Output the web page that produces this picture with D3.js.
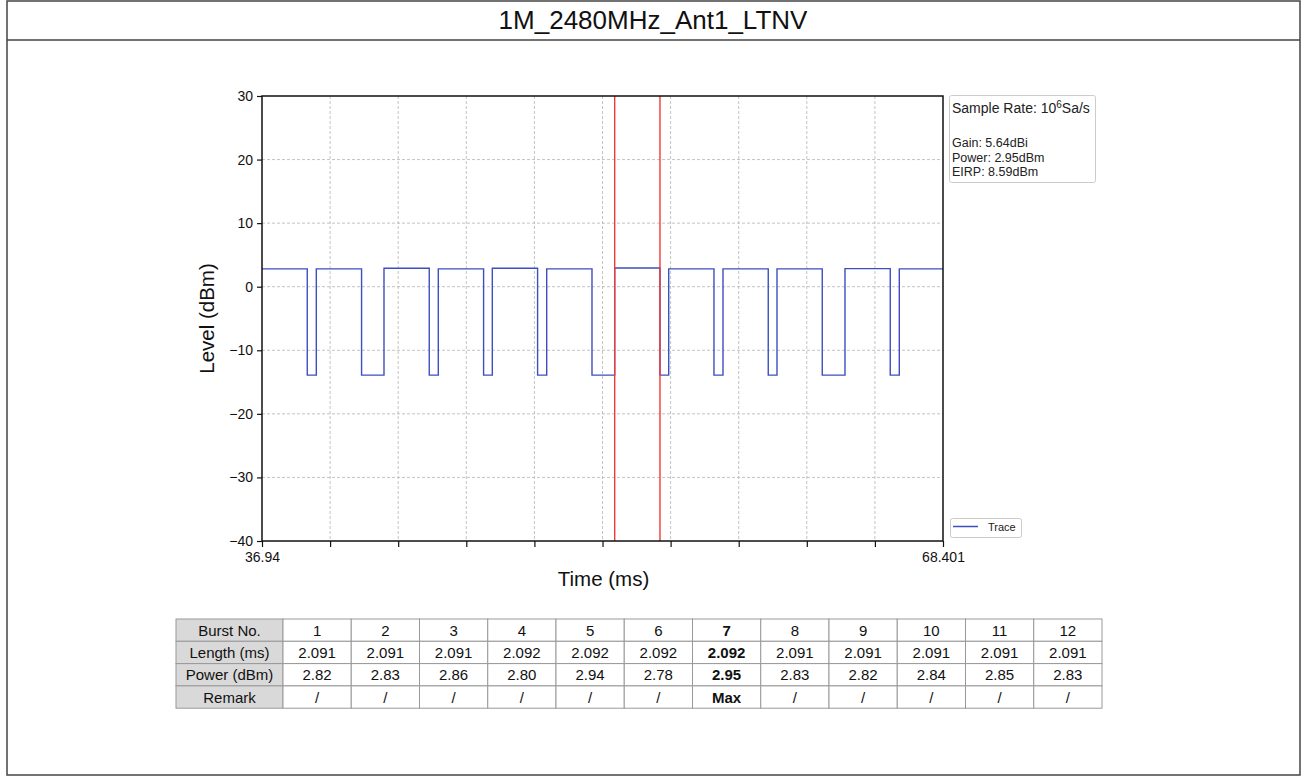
<!DOCTYPE html>
<html>
<head>
<meta charset="utf-8">
<script src="https://cdn.jsdelivr.net/npm/d3@7"></script>
<style>
  html, body { margin: 0; padding: 0; background: #fff; }
  svg { display: block; font-family: "Liberation Sans", Arial, sans-serif; }
</style>
</head>
<body>
<svg id="chart" width="1303" height="776"></svg>
<script>
// ---------- data ----------
const title = "1M_2480MHz_Ant1_LTNV";
const xDomain = [36.94, 68.401];
const yDomain = [-40, 30];
const yTickValues = [-40, -30, -20, -10, 0, 10, 20, 30];
const xTickValues = [36.94, 40.086, 43.232, 46.378, 49.525, 52.671, 55.817, 58.963, 62.109, 65.255, 68.401];
const xTickLabels = ["36.94", "", "", "", "", "", "", "", "", "", "68.401"];

// burst start times (ms)
const burstStart = [36.94, 39.449, 42.576, 45.085, 47.580, 50.093, 53.234, 55.729, 58.237, 60.732, 63.873, 66.382];
// burst on-level (dBm) as drawn
const burstLevel = [2.8, 2.8, 2.9, 2.8, 2.9, 2.8, 2.95, 2.8, 2.8, 2.8, 2.85, 2.8];
const offLevel = -13.9;

// table
const burstNo = ["1", "2", "3", "4", "5", "6", "7", "8", "9", "10", "11", "12"];
const lengthMs = ["2.091", "2.091", "2.091", "2.092", "2.092", "2.092", "2.092", "2.091", "2.091", "2.091", "2.091", "2.091"];
const powerDbm = ["2.82", "2.83", "2.86", "2.80", "2.94", "2.78", "2.95", "2.83", "2.82", "2.84", "2.85", "2.83"];
const remark = ["/", "/", "/", "/", "/", "/", "Max", "/", "/", "/", "/", "/"];
const rowHeaders = ["Burst No.", "Length (ms)", "Power (dBm)", "Remark"];
const maxIndex = 6;

// markers (start / end of max burst)
const markerTimes = [burstStart[maxIndex], burstStart[maxIndex] + parseFloat(lengthMs[maxIndex])];

const infoLines = ["Gain: 5.64dBi", "Power: 2.95dBm", "EIRP: 8.59dBm"];

// ---------- drawing ----------
const svg = d3.select("#chart");

// outer frame
svg.append("rect").attr("x", 7).attr("y", 1).attr("width", 1293).attr("height", 774)
  .attr("fill", "none").attr("stroke", "#444").attr("stroke-width", 1.5);
svg.append("line").attr("x1", 7).attr("x2", 1300).attr("y1", 40).attr("y2", 40)
  .attr("stroke", "#444").attr("stroke-width", 1.5);
svg.append("text").attr("x", 653).attr("y", 29).attr("text-anchor", "middle")
  .attr("font-size", 26).attr("fill", "#111").text(title);

const plot = { left: 262, right: 943, top: 96, bottom: 541 };
const x = d3.scaleLinear().domain(xDomain).range([plot.left, plot.right]);
const y = d3.scaleLinear().domain(yDomain).range([plot.bottom, plot.top]);

// grid
const grid = svg.append("g");
grid.selectAll("line.gx").data(xTickValues.slice(1, -1)).enter().append("line")
  .attr("x1", d => x(d)).attr("x2", d => x(d)).attr("y1", plot.top).attr("y2", plot.bottom)
  .attr("stroke", "#b4b4b4").attr("stroke-width", 0.8).attr("stroke-dasharray", "3,2");
grid.selectAll("line.gy").data(yTickValues.slice(1, -1)).enter().append("line")
  .attr("x1", plot.left).attr("x2", plot.right).attr("y1", d => y(d)).attr("y2", d => y(d))
  .attr("stroke", "#b4b4b4").attr("stroke-width", 0.8).attr("stroke-dasharray", "3,2");

// clip
svg.append("clipPath").attr("id", "clip").append("rect")
  .attr("x", plot.left).attr("y", plot.top)
  .attr("width", plot.right - plot.left).attr("height", plot.bottom - plot.top);

// trace points
const pts = [];
burstStart.forEach((s, i) => {
  const e = s + parseFloat(lengthMs[i]);
  pts.push([s, burstLevel[i]]);
  pts.push([e, burstLevel[i]]);
  if (i < burstStart.length - 1) {
    pts.push([e, offLevel]);
    pts.push([burstStart[i + 1], offLevel]);
  }
});
const line = d3.line().x(d => x(d[0])).y(d => y(d[1]));
svg.append("path").datum(pts).attr("clip-path", "url(#clip)")
  .attr("d", line).attr("fill", "none").attr("stroke", "#3d4fbf").attr("stroke-width", 1.4);

// markers
svg.selectAll("line.marker").data(markerTimes).enter().append("line")
  .attr("x1", d => x(d)).attr("x2", d => x(d)).attr("y1", plot.top).attr("y2", plot.bottom)
  .attr("stroke", "#f03a3a").attr("stroke-width", 1.4);

// axes
const yAxis = d3.axisLeft(y).tickValues(yTickValues).tickSize(5).tickPadding(4)
  .tickFormat(d => d < 0 ? "\u2212" + Math.abs(d) : d);
const gy = svg.append("g").attr("transform", `translate(${plot.left},0)`).call(yAxis);
gy.select(".domain").remove();
gy.selectAll("text").attr("font-size", 14).attr("fill", "#111").attr("font-family", "Liberation Sans, Arial");
gy.selectAll("line").attr("stroke", "#111").attr("stroke-width", 1.2);

const xAxis = d3.axisBottom(x).tickValues(xTickValues).tickSize(6).tickPadding(5)
  .tickFormat((d, i) => xTickLabels[i]);
const gx = svg.append("g").attr("transform", `translate(0,${plot.bottom})`).call(xAxis);
gx.select(".domain").remove();
gx.selectAll("text").attr("font-size", 14).attr("fill", "#111").attr("font-family", "Liberation Sans, Arial");
gx.selectAll("line").attr("stroke", "#111").attr("stroke-width", 1.2);

// frame
svg.append("rect").attr("x", plot.left).attr("y", plot.top)
  .attr("width", plot.right - plot.left).attr("height", plot.bottom - plot.top)
  .attr("fill", "none").attr("stroke", "#111").attr("stroke-width", 1.5);

// axis labels
svg.append("text").attr("x", (plot.left + plot.right) / 2 + 1).attr("y", 586)
  .attr("text-anchor", "middle").attr("font-size", 20.5).attr("fill", "#111").text("Time (ms)");
svg.append("text").attr("transform", `translate(214,${(plot.top + plot.bottom) / 2}) rotate(-90)`)
  .attr("text-anchor", "middle").attr("font-size", 20.5).attr("fill", "#111").text("Level (dBm)");

// info box
svg.append("rect").attr("x", 949.5).attr("y", 95.5).attr("width", 146).attr("height", 87).attr("rx", 2)
  .attr("fill", "#fff").attr("stroke", "#ccc").attr("stroke-width", 1);
const sr = svg.append("text").attr("x", 952).attr("y", 113).attr("font-size", 14).attr("fill", "#222");
sr.append("tspan").text("Sample Rate: 10");
sr.append("tspan").attr("dy", -5).attr("font-size", 10).text("6");
sr.append("tspan").attr("dy", 5).text("Sa/s");
svg.selectAll("text.info").data(infoLines).enter().append("text")
  .attr("x", 952).attr("y", (d, i) => 147 + i * 14.6).attr("font-size", 12.5).attr("fill", "#222").text(d => d);

// legend
svg.append("rect").attr("x", 950.5).attr("y", 518.5).attr("width", 71).attr("height", 19).attr("rx", 2)
  .attr("fill", "#fff").attr("stroke", "#ccc").attr("stroke-width", 1);
svg.append("line").attr("x1", 953).attr("x2", 978).attr("y1", 526.5).attr("y2", 526.5)
  .attr("stroke", "#3d4fbf").attr("stroke-width", 1.5);
svg.append("text").attr("x", 988).attr("y", 531).attr("font-size", 11).attr("fill", "#222").text("Trace");

// table
const tbl = { left: 176, top: 619, headW: 107, colW: 68.25, rowH: 22.3 };
const rows = [burstNo, lengthMs, powerDbm, remark];
const tg = svg.append("g");
rows.forEach((r, ri) => {
  const yy = tbl.top + ri * tbl.rowH;
  tg.append("rect").attr("x", tbl.left).attr("y", yy).attr("width", tbl.headW).attr("height", tbl.rowH)
    .attr("fill", "#d9d9d9").attr("stroke", "#999").attr("stroke-width", 1);
  tg.append("text").attr("x", tbl.left + tbl.headW / 2).attr("y", yy + tbl.rowH / 2 + 5.5)
    .attr("text-anchor", "middle").attr("font-size", 15).attr("fill", "#111").text(rowHeaders[ri]);
  r.forEach((v, ci) => {
    const xx = tbl.left + tbl.headW + ci * tbl.colW;
    tg.append("rect").attr("x", xx).attr("y", yy).attr("width", tbl.colW).attr("height", tbl.rowH)
      .attr("fill", "#fff").attr("stroke", "#999").attr("stroke-width", 1);
    tg.append("text").attr("x", xx + tbl.colW / 2).attr("y", yy + tbl.rowH / 2 + 5.5)
      .attr("text-anchor", "middle").attr("font-size", 15).attr("fill", "#111")
      .attr("font-weight", ci === maxIndex ? "bold" : "normal").text(v);
  });
});
</script>
</body>
</html>
